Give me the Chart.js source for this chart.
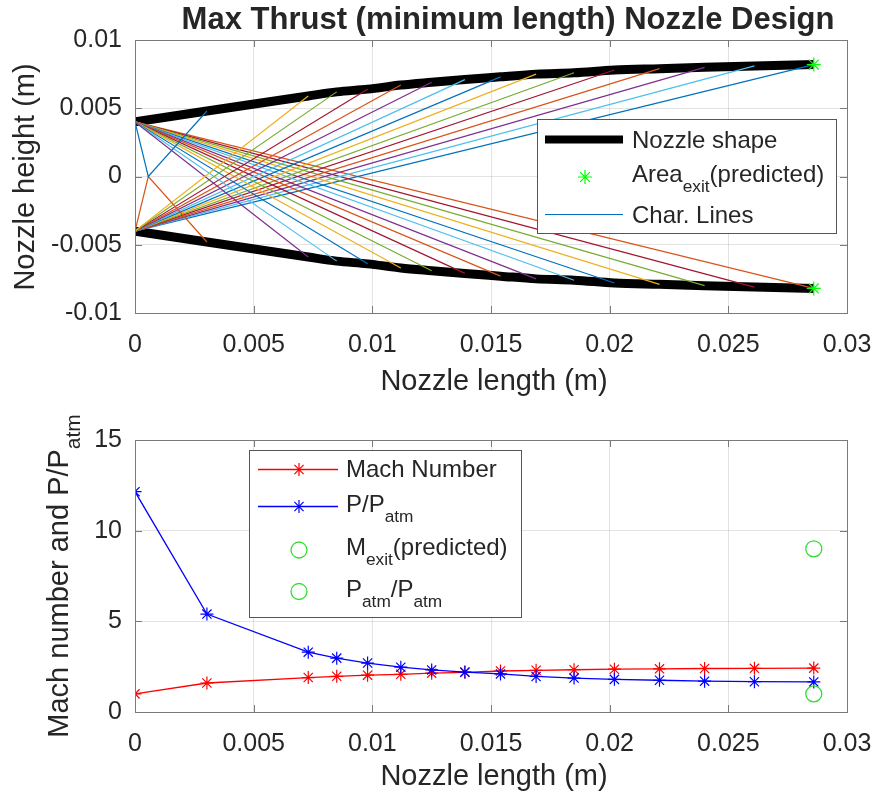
<!DOCTYPE html>
<html>
<head>
<meta charset="utf-8">
<script src="https://cdn.jsdelivr.net/npm/chart.js@4.4.1/dist/chart.umd.min.js"></script>
<style>
  html, body { margin: 0; padding: 0; background: #fff; }
  #wrap { position: relative; width: 877px; height: 798px; }
  #top { position: absolute; left: 0; top: 0; }
  #bottom { position: absolute; left: 0; top: 400px; }
</style>
</head>
<body>
<div id="wrap">
  <canvas id="top" width="877" height="400"></canvas>
  <canvas id="bottom" width="877" height="398"></canvas>
</div>
<script>
// ticks
const xTicks = [0, 0.005, 0.01, 0.015, 0.02, 0.025, 0.03];
const xTickLabels = ['0', '0.005', '0.01', '0.015', '0.02', '0.025', '0.03'];
const heightTicks = [-0.01, -0.005, 0, 0.005, 0.01];
const heightTickLabels = ['-0.01', '-0.005', '0', '0.005', '0.01'];
const machTicks = [0, 5, 10, 15];
const machTickLabels = ['0', '5', '10', '15'];

// wall points (x along nozzle, upper wall height; lower wall is the mirror)
const wallX = [0, 0.00303, 0.0073, 0.0085, 0.0098, 0.0112, 0.0125, 0.0139,
               0.0154, 0.0169, 0.0185, 0.0202, 0.0221, 0.0240, 0.0261, 0.0286];
const wallY = [0.0040, 0.0048, 0.0059, 0.0062, 0.0064, 0.0067, 0.0069, 0.0071,
               0.0073, 0.0075, 0.0076, 0.0078, 0.0079, 0.0080, 0.0081, 0.0082];
const reflectX = 0.00056;          // first char. line meets centerline here
const exitX = 0.0286;
const exitY = 0.0082;

// flow along the wall
const machNumber = [1.0, 1.6, 1.9, 1.97, 2.03, 2.08, 2.14, 2.19,
                    2.26, 2.30, 2.33, 2.36, 2.38, 2.40, 2.41, 2.42];
const pressureRatio = [12.15, 5.4, 3.3, 2.97, 2.7, 2.47, 2.32, 2.2,
                       2.1, 1.96, 1.87, 1.8, 1.75, 1.7, 1.67, 1.66];
const machExitPredicted = 9.0;
const patmRatio = 1.0;

const FAMILY = '"Liberation Sans", Arial, sans-serif';
const INK = '#262626';
const CHAR_COLORS = ['#0072BD', '#D95319', '#EDB120', '#7E2F8E', '#77AC30', '#4DBEEE', '#A2142F'];
const GREEN = '#00FF00';
const CIRCLE_GREEN = '#33DD33';

function font(size, bold) {
  return (bold ? 'bold ' : '') + size + 'px ' + FAMILY;
}

// text with subscripts: parts = [[text, isSub], ...]
function drawRich(ctx, parts, x, y, size, align, opts) {
  opts = opts || {};
  const subSize = size * 0.72;
  ctx.save();
  ctx.translate(x, y);
  if (opts.rotate) ctx.rotate(-Math.PI / 2);
  const widths = parts.map(([t, sub]) => {
    ctx.font = font(sub ? subSize : size, opts.bold);
    return ctx.measureText(t).width;
  });
  const total = widths.reduce((a, b) => a + b, 0);
  let cx = align === 'center' ? -total / 2 : 0;
  ctx.fillStyle = INK;
  ctx.textAlign = 'left';
  ctx.textBaseline = 'alphabetic';
  parts.forEach(([t, sub], i) => {
    ctx.font = font(sub ? subSize : size, opts.bold);
    ctx.fillText(t, cx, sub ? size * 0.42 : 0);
    cx += widths[i];
  });
  ctx.restore();
}

function axis(min, max, ticks, labels, isX, fit) {
  return {
    type: 'linear', min, max,
    afterBuildTicks: s => { s.ticks = ticks.map(v => ({ value: v })); },
    afterFit: s => {
      if (isX) { s.height = fit; s.paddingLeft = 0; s.paddingRight = 0; }
      else { s.width = fit; s.paddingTop = 0; s.paddingBottom = 0; }
    },
    grid: { color: 'rgba(38,38,38,0.13)', drawTicks: false },
    border: { display: false },
    ticks: {
      color: INK, font: { family: FAMILY, size: 25 },
      padding: isX ? 17 : 13, maxRotation: 0, autoSkip: false,
      callback: (v, i) => labels[i]
    }
  };
}

// box with inward ticks on all four sides
const framePlugin = {
  id: 'frame',
  afterDatasetsDraw(chart) {
    const { ctx, chartArea: a, scales } = chart;
    ctx.save();
    ctx.strokeStyle = '#7a7a7a';
    ctx.lineWidth = 1;
    ctx.beginPath();
    scales.x.ticks.forEach(t => {
      const px = Math.round(scales.x.getPixelForValue(t.value)) + 0.5;
      ctx.moveTo(px, a.bottom); ctx.lineTo(px, a.bottom - 7);
      ctx.moveTo(px, a.top); ctx.lineTo(px, a.top + 7);
    });
    scales.y.ticks.forEach(t => {
      const py = Math.round(scales.y.getPixelForValue(t.value)) + 0.5;
      ctx.moveTo(a.left, py); ctx.lineTo(a.left + 7, py);
      ctx.moveTo(a.right, py); ctx.lineTo(a.right - 7, py);
    });
    ctx.stroke();
    ctx.strokeRect(Math.round(a.left) + 0.5, Math.round(a.top) + 0.5,
                   Math.round(a.right - a.left), Math.round(a.bottom - a.top));
    ctx.restore();
  }
};

function legendBox(ctx, x0, y0, x1, y1) {
  ctx.fillStyle = '#fff';
  ctx.fillRect(x0, y0, x1 - x0, y1 - y0);
  ctx.strokeStyle = '#555';
  ctx.lineWidth = 1;
  ctx.strokeRect(x0 + 0.5, y0 + 0.5, x1 - x0, y1 - y0);
}

function hLine(ctx, x0, x1, y, color, w) {
  ctx.strokeStyle = color; ctx.lineWidth = w;
  ctx.beginPath(); ctx.moveTo(x0, y); ctx.lineTo(x1, y); ctx.stroke();
}

function legendStar(ctx, x, y, color, r) {
  ctx.save();
  ctx.strokeStyle = color;
  ctx.fillStyle = color;
  ctx.lineWidth = 1.2;
  Chart.helpers.drawPoint(ctx, { pointStyle: 'star', radius: r, borderWidth: 1.2 }, x, y);
  ctx.restore();
}

function legendCircle(ctx, x, y) {
  ctx.strokeStyle = CIRCLE_GREEN; ctx.lineWidth = 1.3;
  ctx.beginPath(); ctx.arc(x, y, 8, 0, Math.PI * 2); ctx.stroke();
}

function lineSet(points, color, width, order, smooth) {
  return {
    data: points, showLine: true, borderColor: color, backgroundColor: color,
    borderWidth: width, pointRadius: 0, order: order,
    cubicInterpolationMode: smooth ? 'monotone' : 'default',
    tension: smooth ? 0.4 : 0
  };
}

// ---------- top chart ----------
const upperWall = wallX.map((x, i) => ({ x, y: wallY[i] }));
const lowerWall = wallX.map((x, i) => ({ x, y: -wallY[i] }));
const throatTop = upperWall[0];
const throatBottom = lowerWall[0];

const charLines = [];
charLines.push(lineSet([throatTop, { x: reflectX, y: 0 }, upperWall[1]], CHAR_COLORS[0], 1.2, 1));
charLines.push(lineSet([throatBottom, { x: reflectX, y: 0 }, lowerWall[1]], CHAR_COLORS[1], 1.2, 1));
for (let k = 2; k < wallX.length; k++) {
  charLines.push(lineSet([throatBottom, upperWall[k]], CHAR_COLORS[(2 * k - 2) % 7], 1.2, 1));
  charLines.push(lineSet([throatTop, lowerWall[k]], CHAR_COLORS[(2 * k - 1) % 7], 1.2, 1));
}

const topLabels = {
  id: 'topLabels',
  afterDraw(chart) {
    const ctx = chart.ctx;
    drawRich(ctx, [['Max Thrust (minimum length) Nozzle Design', 0]], 508, 29, 31, 'center', { bold: true });
    drawRich(ctx, [['Nozzle length (m)', 0]], 494, 390, 29, 'center');
    drawRich(ctx, [['Nozzle height (m)', 0]], 34, 177, 29, 'center', { rotate: true });

    legendBox(ctx, 537, 119, 836, 233);
    hLine(ctx, 545, 623, 139.5, '#000', 8);
    drawRich(ctx, [['Nozzle shape', 0]], 632, 148, 24, 'left');
    legendStar(ctx, 585, 177, GREEN, 7);
    drawRich(ctx, [['Area', 0], ['exit', 1], ['(predicted)', 0]], 632, 182, 24, 'left');
    hLine(ctx, 545, 623, 214.5, CHAR_COLORS[0], 1.2);
    drawRich(ctx, [['Char. Lines', 0]], 632, 223, 24, 'left');
  }
};

new Chart(document.getElementById('top'), {
  type: 'scatter',
  data: {
    datasets: [
      lineSet(upperWall, '#000', 9, 3, true),
      lineSet(lowerWall, '#000', 9, 3, true),
      {
        data: [{ x: exitX, y: exitY }, { x: exitX, y: -exitY }],
        pointStyle: 'star', pointRadius: 7, pointBorderColor: GREEN,
        pointBackgroundColor: GREEN, pointBorderWidth: 1.2, showLine: false, order: 0
      },
      ...charLines
    ]
  },
  options: {
    responsive: false, animation: false,
    layout: { padding: { top: 40, right: 30, left: 0, bottom: 0 } },
    plugins: { legend: { display: false }, tooltip: { enabled: false } },
    scales: {
      x: axis(0, 0.03, xTicks, xTickLabels, true, 87),
      y: axis(-0.01, 0.01, heightTicks, heightTickLabels, false, 135)
    }
  },
  plugins: [framePlugin, topLabels]
});

// ---------- bottom chart ----------
const machPts = wallX.map((x, i) => ({ x, y: machNumber[i] }));
const pressPts = wallX.map((x, i) => ({ x, y: pressureRatio[i] }));

function starLine(points, color, order) {
  return {
    data: points, showLine: true, borderColor: color, backgroundColor: color,
    borderWidth: 1.3, pointStyle: 'star', pointRadius: 6.5,
    pointBorderColor: color, pointBorderWidth: 1.2, order
  };
}

const bottomLabels = {
  id: 'bottomLabels',
  afterDraw(chart) {
    const ctx = chart.ctx;
    drawRich(ctx, [['Nozzle length (m)', 0]], 494, 385, 29, 'center');
    drawRich(ctx, [['Mach number and P/P', 0], ['atm', 1]], 68, 176, 29, 'center', { rotate: true });

    legendBox(ctx, 249, 50, 521, 217);
    hLine(ctx, 258, 338, 69.5, '#FF0000', 1.3);
    legendStar(ctx, 299, 69.5, '#FF0000', 6.5);
    drawRich(ctx, [['Mach Number', 0]], 346, 77, 24, 'left');

    hLine(ctx, 258, 338, 106.5, '#0000FF', 1.3);
    legendStar(ctx, 299, 106.5, '#0000FF', 6.5);
    drawRich(ctx, [['P/P', 0], ['atm', 1]], 346, 112, 24, 'left');

    legendCircle(ctx, 299, 150);
    drawRich(ctx, [['M', 0], ['exit', 1], ['(predicted)', 0]], 346, 155, 24, 'left');

    legendCircle(ctx, 299, 191.5);
    drawRich(ctx, [['P', 0], ['atm', 1], ['/P', 0], ['atm', 1]], 346, 196.5, 24, 'left');
  }
};

new Chart(document.getElementById('bottom'), {
  type: 'scatter',
  data: {
    datasets: [
      starLine(machPts, '#FF0000', 2),
      starLine(pressPts, '#0000FF', 1),
      {
        data: [{ x: exitX, y: machExitPredicted }, { x: exitX, y: patmRatio }],
        pointStyle: 'circle', pointRadius: 8, pointBorderColor: CIRCLE_GREEN,
        pointBackgroundColor: 'rgba(0,0,0,0)', pointBorderWidth: 1.3,
        showLine: false, order: 0
      }
    ]
  },
  options: {
    responsive: false, animation: false,
    layout: { padding: { top: 40, right: 30, left: 0, bottom: 0 } },
    plugins: { legend: { display: false }, tooltip: { enabled: false } },
    scales: {
      x: axis(0, 0.03, xTicks, xTickLabels, true, 86),
      y: axis(0, 15, machTicks, machTickLabels, false, 135)
    }
  },
  plugins: [framePlugin, bottomLabels]
});
</script>
</body>
</html>
